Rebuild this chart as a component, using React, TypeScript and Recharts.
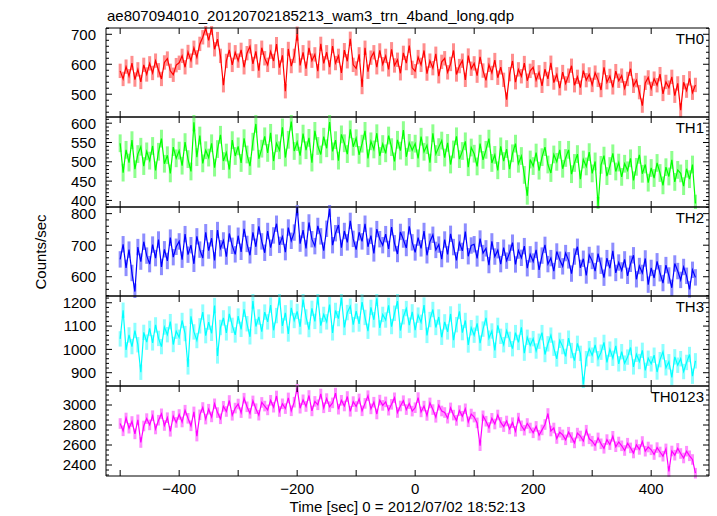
import React from 'react';
import { LineChart, Line, XAxis, YAxis, ErrorBar } from 'recharts';

// time bins (sec), start and bin width
const T_START = -500;
const T_STEP = 5;

const TH0 = [
  578, 551, 592, 560, 604, 549, 583, 541, 598, 566,
  603, 571, 612, 580, 551, 606, 619, 578, 565, 597,
  605, 628, 590, 641, 612, 655, 623, 668, 690, 720,
  680, 722, 650, 684, 628, 530, 611, 648, 598, 640,
  612, 648, 590, 637, 660, 601, 643, 579, 655, 620,
  598, 642, 611, 667, 589, 630, 510, 651, 594, 628,
  702, 596, 640, 585, 655, 612, 633, 577, 668, 603,
  640, 590, 661, 604, 628, 571, 647, 610, 685, 598,
  586, 633, 524, 655, 575, 622, 640, 590, 646, 600,
  628, 583, 650, 596, 615, 570, 638, 604, 662, 588,
  577, 624, 598, 646, 569, 612, 587, 635, 560, 608,
  620, 573, 601, 646, 566, 594, 612, 548, 629, 585,
  603, 562, 625, 579, 546, 598, 571, 614, 555, 590,
  548, 482, 567, 611, 540, 583, 560, 604, 545, 578,
  590, 547, 573, 528, 584, 551, 605, 539, 566, 520,
  574, 536, 562, 595, 530, 558, 522, 579, 547, 566,
  531, 572, 548, 514, 590, 540, 561, 523, 577, 545,
  562, 520, 551, 585, 528, 547, 507, 462, 538, 556,
  518, 552, 530, 567, 501, 541, 522, 558, 495, 536,
  447, 540, 512, 553, 505, 531,
];

const TH1 = [
  548, 472, 531, 498, 556, 481, 520, 539, 489, 527,
  503, 541, 478, 526, 560, 495, 517, 470, 538, 509,
  529, 490, 551, 507, 475, 602, 512, 568, 496, 530,
  511, 548, 485, 533, 570, 502, 524, 480, 556, 515,
  540, 497, 561, 519, 489, 552, 598, 508, 534, 566,
  523, 575, 502, 548, 530, 589, 511, 557, 604, 528,
  551, 516, 573, 530, 562, 498, 580, 541, 519, 565,
  535, 603, 527, 556, 503, 571, 548, 520, 584, 539,
  561, 518, 547, 580, 509, 553, 532, 574, 515, 546,
  522, 568, 538, 501, 557, 529, 582, 513, 549, 530,
  547, 509, 565, 526, 543, 498, 574, 520, 538, 555,
  511, 549, 493, 532, 566, 507, 528, 553, 486, 537,
  521, 488, 547, 505, 531, 560, 497, 518, 478, 540,
  502, 533, 481, 522, 547, 495, 515, 466, 412, 506,
  489, 524, 477, 512, 538, 493, 471, 519, 500, 531,
  482, 510, 531, 468, 497, 520, 455, 506, 488, 525,
  470, 501, 386, 492, 516, 463, 489, 522, 475, 498,
  461, 495, 478, 509, 452, 487, 518, 469, 493, 446,
  484, 458, 497, 471, 439, 486, 462, 505, 448, 479,
  470, 437, 482, 455, 493, 392,
];

const TH2 = [
  655, 703, 628, 686, 612, 553, 694, 648, 711, 667,
  640, 702, 659, 718, 631, 687, 650, 724, 662, 695,
  712, 654, 735, 670, 700, 641, 728, 686, 659, 741,
  683, 722, 652, 748, 690, 715, 664, 737, 698, 671,
  730, 679, 752, 704, 668, 741, 695, 760, 712, 676,
  745, 692, 731, 768, 701, 727, 678, 756, 714, 740,
  820, 705, 748, 690, 772, 719, 697, 761, 728, 683,
  752, 815, 700, 738, 764, 692, 745, 709, 777, 720,
  686, 741, 712, 768, 695, 730, 674, 751, 719, 700,
  735, 688, 757, 706, 672, 742, 718, 691, 760, 709,
  677, 724, 690, 745, 668, 711, 733, 685, 702, 656,
  718, 671, 736, 694, 652, 708, 682, 743, 665, 699,
  703, 658, 721, 675, 690, 637, 712, 664, 684, 640,
  692, 651, 676, 708, 639, 683, 660, 697, 627, 671,
  648, 685, 622, 667, 701, 640, 659, 618, 680, 654,
  633, 675, 652, 610, 664, 695, 628, 657, 604, 669,
  650, 618, 673, 635, 597, 659, 627, 682, 612, 645,
  620, 655, 603, 641, 668, 592, 634, 612, 658, 575,
  628, 596, 649, 611, 580, 637, 604, 565, 642, 618,
  590, 631, 603, 560, 622, 598,
];

const TH3 = [
  1045, 1168, 998, 1062, 1012, 1081, 1020, 902, 1073, 1031,
  1090, 1028, 1105, 1047, 1012, 1096, 1063, 1119, 1021, 1078,
  1052, 1124, 1068, 925, 1142, 1075, 1038, 1101, 1160, 1059,
  1117, 1069, 1188, 972, 1094, 1135, 1071, 1152, 1103, 1062,
  1143, 1086, 1172, 1110, 1054, 1207, 1098, 1139, 1076, 1160,
  1118, 1190, 1082, 1145, 1222, 1101, 1157, 1066, 1178, 1124,
  1163, 1097, 1214, 1139, 1085, 1176, 1120, 1225, 1102, 1150,
  1118, 1192, 1071, 1167, 1132, 1221, 1094, 1158, 1185, 1106,
  1164, 1109, 1203, 1137, 1078, 1180, 1127, 1219, 1092, 1150,
  1126, 1189, 1098, 1155, 1207, 1081, 1140, 1175, 1104, 1161,
  1083, 1147, 1116, 1190, 1060, 1128, 1171, 1094, 1139, 1052,
  1118, 1075, 1152, 1040, 1106, 1163, 1072, 1124, 1019, 1093,
  1061, 1112, 1027, 1087, 1135, 1048, 1079, 996, 1103, 1056,
  1020, 1081, 1043, 1003, 1072, 1030, 1095, 984, 1052, 1017,
  1046, 993, 1035, 1072, 978, 1024, 1061, 1005, 959, 1039,
  1012, 970, 1048, 995, 952, 1026, 983, 850, 960, 1003,
  975, 1019, 960, 988, 1030, 944, 1001, 962, 1015, 938,
  990, 941, 967, 1008, 925, 979, 948, 996, 910, 962,
  938, 975, 903, 956, 990, 921, 947, 880, 968, 932,
  960, 905, 944, 978, 885, 951,
];

const TH0123 = [
  2815, 2742, 2870, 2768, 2835, 2711, 2852, 2625, 2790, 2864,
  2801, 2893, 2760, 2848, 2912, 2795, 2873, 2737, 2889, 2826,
  2905, 2830, 2948, 2867, 2792, 2931, 2689, 2902, 2975, 2859,
  2958, 2881, 3012, 2924, 2862, 2987, 2935, 3045, 2897, 2969,
  3010, 2924, 3068, 2982, 2917, 3041, 2963, 2898, 3026, 2989,
  2951, 3047, 2978, 3090, 2935, 3012, 2964, 3071, 2942, 3028,
  3168, 2968, 3052, 2985, 3095, 2941, 3036, 3002, 3110, 2972,
  3064, 2983, 3021, 3119, 2958, 3047, 2990, 3085, 2937, 3034,
  2985, 3061, 2942, 3016, 3093, 2961, 3028, 2910, 3049, 2996,
  3031, 2948, 3007, 3072, 2925, 2990, 3043, 2954, 3014, 2939,
  2973, 3074, 2931, 2989, 2896, 3021, 2954, 2877, 2998, 2940,
  2925, 2868, 2971, 2899, 2846, 2944, 2888, 2962, 2832, 2910,
  2879, 2821, 2593, 2892, 2838, 2775, 2867, 2810, 2900, 2826,
  2784, 2840, 2761, 2823, 2737, 2869, 2792, 2748, 2815, 2770,
  2722, 2786, 2698, 2751, 2805, 2915, 2740, 2770, 2665, 2728,
  2701, 2652, 2728, 2675, 2621, 2719, 2690, 2640, 2748, 2662,
  2638, 2595, 2671, 2612, 2567, 2654, 2604, 2687, 2583, 2630,
  2592, 2545, 2618, 2571, 2520, 2601, 2556, 2635, 2538, 2580,
  2552, 2505, 2574, 2530, 2488, 2561, 2335, 2540, 2498, 2566,
  2515, 2470, 2538, 2492, 2455, 2318,
];

const SERIES = [TH0, TH1, TH2, TH3, TH0123];
const NAMES = ['TH0', 'TH1', 'TH2', 'TH3', 'TH0123'];
const ERRORS = [24, 23, 26, 33, 53];

const X_DOMAIN = [-524, 498];
const X_TICKS = [-500, -400, -300, -200, -100, 0, 100, 200, 300, 400];
const X_LABELS = [-400, -200, 0, 200, 400];

const Y_DOMAINS = [
  [424, 721],
  [383, 616],
  [539, 821],
  [843, 1229],
  [2290, 3190],
];
const Y_MAJOR = [
  [500, 600, 700],
  [400, 450, 500, 550, 600],
  [600, 700, 800],
  [900, 1000, 1100, 1200],
  [2400, 2600, 2800, 3000],
];
const Y_MINOR = [
  [440, 460, 480, 520, 540, 560, 580, 620, 640, 660, 680, 720],
  [390, 410, 420, 430, 440, 460, 470, 480, 490, 510, 520, 530, 540, 560, 570, 580, 590, 610],
  [540, 560, 580, 620, 640, 660, 680, 720, 740, 760, 780, 820],
  [860, 880, 920, 940, 960, 980, 1020, 1040, 1060, 1080, 1120, 1140, 1160, 1180, 1220],
  [2300, 2350, 2450, 2500, 2550, 2650, 2700, 2750, 2850, 2900, 2950, 3050, 3100, 3150],
];

const COLORS = ['#ff0000', '#00ff00', '#0000ff', '#00ffff', '#ff00ff'];
const ERR_COLORS = ['#ff8e8e', '#8eff8e', '#8e8eff', '#8effff', '#ff8eff'];

const PANEL_TOPS = [28, 117, 207, 296, 386];
const PANEL_BOTTOM = 476;
const PLOT_LEFT = 106;
const PLOT_RIGHT = 709;
const W = 717;
const H = 516;
const FONT = "'Liberation Sans', Arial, Helvetica, sans-serif";
const AX = '#000';

const fmt = (v: number) => (v < 0 ? '\u2212' + Math.abs(v) : String(v));

function Panel({ idx }: { idx: number }) {
  const values = SERIES[idx];
  const data = values.map((v, i) => ({ t: T_START + i * T_STEP, v, e: ERRORS[idx] }));
  const top = PANEL_TOPS[idx];
  const bottom = idx < 4 ? PANEL_TOPS[idx + 1] : PANEL_BOTTOM;
  const ph = bottom - top;
  const isLast = idx === 4;
  const xh = isLast ? 40 : 1;
  const height = 2 + ph + (isLast ? 40 : 2);
  const majors = Y_MAJOR[idx];
  const yTicks = [...majors, ...Y_MINOR[idx]].sort((a, b) => a - b);

  const leftTick = (p: any) => {
    const edge = p.x + 8;
    const major = majors.includes(p.payload.value);
    const len = major ? 6 : 3;
    return (
      <g>
        <line x1={edge} x2={edge + len} y1={p.y} y2={p.y} stroke={AX} strokeWidth={1} />
        {major && (
          <text x={edge - 10} y={p.y} dy="0.36em" textAnchor="end" fontSize={15} fontFamily={FONT} fill="#000">
            {fmt(p.payload.value)}
          </text>
        )}
      </g>
    );
  };
  const rightTick = (p: any) => {
    const edge = p.x - 8;
    const major = majors.includes(p.payload.value);
    const len = major ? 6 : 3;
    return <line x1={edge} x2={edge - len} y1={p.y} y2={p.y} stroke={AX} strokeWidth={1} />;
  };
  const bottomTick = (p: any) => {
    const edge = p.y - 8;
    const lab = isLast && X_LABELS.includes(p.payload.value);
    return (
      <g>
        <line x1={p.x} x2={p.x} y1={edge} y2={edge - 6} stroke={AX} strokeWidth={1} />
        {lab && (
          <text x={p.x} y={edge + 18} textAnchor="middle" fontSize={15} fontFamily={FONT} fill="#000">
            {fmt(p.payload.value)}
          </text>
        )}
      </g>
    );
  };
  const topTick = (p: any) => {
    const edge = p.y + 8;
    return <line x1={p.x} x2={p.x} y1={edge} y2={edge + 6} stroke={AX} strokeWidth={1} />;
  };

  return (
    <div style={{ position: 'absolute', left: 0, top: top - 2 }}>
      <LineChart
        width={W}
        height={height}
        data={data}
        margin={{ top: 1, right: W - PLOT_RIGHT - 1, bottom: isLast ? 0 : 1, left: 0 }}
      >
        <XAxis
          xAxisId="b"
          dataKey="t"
          type="number"
          domain={X_DOMAIN}
          allowDataOverflow
          ticks={X_TICKS}
          interval={0}
          height={xh}
          tickLine={false}
          axisLine={{ stroke: AX }}
          tick={bottomTick}
          label={
            isLast
              ? {
                  value: 'Time [sec] 0 = 2012/07/02 18:52:13',
                  position: 'insideBottom',
                  offset: 4,
                  fontSize: 15,
                  fontFamily: FONT,
                  fill: '#000',
                }
              : undefined
          }
        />
        <XAxis
          xAxisId="t"
          orientation="top"
          dataKey="t"
          type="number"
          domain={X_DOMAIN}
          allowDataOverflow
          ticks={X_TICKS}
          interval={0}
          height={1}
          tickLine={false}
          axisLine={{ stroke: AX }}
          tick={topTick}
        />
        <YAxis
          yAxisId="l"
          type="number"
          domain={Y_DOMAINS[idx]}
          allowDataOverflow
          ticks={yTicks}
          interval={0}
          width={PLOT_LEFT}
          tickLine={false}
          axisLine={{ stroke: AX }}
          tick={leftTick}
        />
        <YAxis
          yAxisId="r"
          orientation="right"
          type="number"
          domain={Y_DOMAINS[idx]}
          allowDataOverflow
          ticks={yTicks}
          interval={0}
          width={1}
          tickLine={false}
          axisLine={{ stroke: AX }}
          tick={rightTick}
        />
        <Line
          xAxisId="b"
          yAxisId="l"
          dataKey="v"
          stroke="none"
          dot={false}
          activeDot={false}
          isAnimationActive={false}
        >
          <ErrorBar dataKey="e" width={0} stroke={ERR_COLORS[idx]} strokeWidth={3} direction="y" isAnimationActive={false} />
        </Line>
        <Line
          xAxisId="b"
          yAxisId="l"
          dataKey="v"
          type="linear"
          stroke={COLORS[idx]}
          strokeWidth={1.2}
          dot={false}
          activeDot={false}
          isAnimationActive={false}
        />
        <Line
          xAxisId="t"
          yAxisId="r"
          dataKey="v"
          stroke="none"
          dot={false}
          activeDot={false}
          isAnimationActive={false}
        />
      </LineChart>
    </div>
  );
}

export default function App() {
  return (
    <div style={{ position: 'absolute', left: 0, top: 0, width: W, height: H, background: '#fff' }}>
      {SERIES.map((_, i) => (
        <Panel key={NAMES[i]} idx={i} />
      ))}
      <svg
        width={W}
        height={H}
        style={{ position: 'absolute', left: 0, top: 0, pointerEvents: 'none' }}
      >
        <text x={107} y={20.5} fontSize={15} fontFamily={FONT} fill="#000">
          ae807094010_20120702185213_wam3_trn_4band_long.qdp
        </text>
        <text
          x={46}
          y={252}
          fontSize={15}
          fontFamily={FONT}
          fill="#000"
          textAnchor="middle"
          transform="rotate(-90, 46, 252)"
        >
          Counts/sec
        </text>
        {NAMES.map((n, i) => (
          <text key={n} x={704} y={PANEL_TOPS[i] + 16} fontSize={15} fontFamily={FONT} fill="#000" textAnchor="end">
            {n}
          </text>
        ))}
      </svg>
    </div>
  );
}
